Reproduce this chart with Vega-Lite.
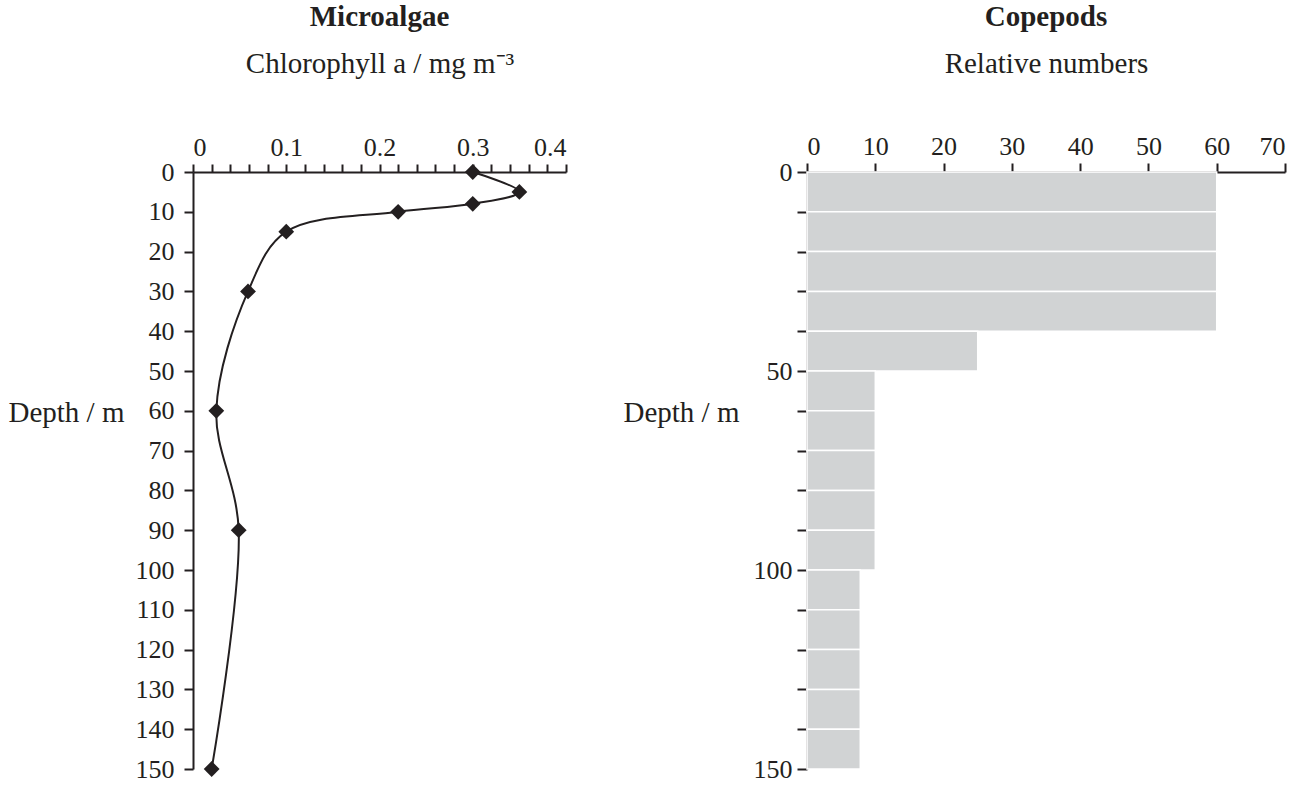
{
  "$schema": "https://vega.github.io/schema/vega-lite/v6.json",
  "padding": {"left": 8, "top": 3, "right": 5, "bottom": 5},
  "spacing": 56,
  "config": {
    "view": {"stroke": null},
    "font": "Liberation Serif",
    "axis": {
      "grid": false,
      "domainColor": "#231f20",
      "domainWidth": 2,
      "tickColor": "#231f20",
      "tickWidth": 2,
      "labelColor": "#231f20",
      "labelFont": "Liberation Serif",
      "labelFontSize": 26,
      "titleColor": "#231f20",
      "titleFont": "Liberation Serif",
      "titleFontSize": 29,
      "titleFontWeight": "normal",
      "labelOverlap": false,
      "zindex": 1
    },
    "title": {"font": "Liberation Serif", "fontSize": 29, "fontWeight": "bold", "color": "#231f20", "anchor": "middle", "offset": 17}
  },
  "hconcat": [
    {
      "width": 373,
      "height": 597,
      "title": "Microalgae",
      "data": {
        "values": [
          {"depth": 0, "chl": 0.3},
          {"depth": 5, "chl": 0.35},
          {"depth": 8, "chl": 0.3},
          {"depth": 10, "chl": 0.22},
          {"depth": 15, "chl": 0.1},
          {"depth": 30, "chl": 0.059},
          {"depth": 60, "chl": 0.025},
          {"depth": 90, "chl": 0.049},
          {"depth": 150, "chl": 0.02}
        ]
      },
      "encoding": {
        "x": {
          "field": "chl", "type": "quantitative",
          "scale": {"domain": [0, 0.4], "nice": false, "zero": true},
          "axis": {
            "orient": "top",
            "values": [0, 0.02, 0.04, 0.06, 0.08, 0.1, 0.12, 0.14, 0.16, 0.18, 0.2, 0.22, 0.24, 0.26, 0.28, 0.3, 0.32, 0.34, 0.36, 0.38, 0.4],
            "labelExpr": "abs(datum.value * 10 - round(datum.value * 10)) < 0.001 ? (datum.value == 0 ? '0' : format(datum.value, '.1f')) : ''",
            "tickSize": 8,
            "labelPadding": 4,
            "labelOverlap": false,
            "title": "Chlorophyll a / mg m⁻³",
            "titleY": -109,
            "titleBaseline": "middle"
          }
        },
        "y": {
          "field": "depth", "type": "quantitative",
          "scale": {"domain": [0, 150], "reverse": true, "nice": false},
          "axis": {
            "values": [0, 10, 20, 30, 40, 50, 60, 70, 80, 90, 100, 110, 120, 130, 140, 150],
            "tickSize": 9,
            "labelPadding": 10,
            "labelOverlap": false,
            "title": "Depth / m",
            "titleAngle": 0,
            "titleAlign": "right",
            "titleBaseline": "middle",
            "titleX": -69,
            "titleY": 240
          }
        }
      },
      "layer": [
        {
          "mark": {"type": "line", "interpolate": "catmull-rom", "color": "#231f20", "strokeWidth": 2},
          "encoding": {
            "order": {"field": "depth", "type": "quantitative"}
          }
        },
        {
          "mark": {"type": "point", "shape": "diamond", "filled": true, "size": 250, "color": "#231f20", "opacity": 1},
          "encoding": {}
        }
      ]
    },
    {
      "width": 478,
      "height": 597,
      "title": "Copepods",
      "data": {
        "values": [
          {"d0": 0, "d1": 10, "n": 60},
          {"d0": 10, "d1": 20, "n": 60},
          {"d0": 20, "d1": 30, "n": 60},
          {"d0": 30, "d1": 40, "n": 60},
          {"d0": 40, "d1": 50, "n": 25},
          {"d0": 50, "d1": 60, "n": 10},
          {"d0": 60, "d1": 70, "n": 10},
          {"d0": 70, "d1": 80, "n": 10},
          {"d0": 80, "d1": 90, "n": 10},
          {"d0": 90, "d1": 100, "n": 10},
          {"d0": 100, "d1": 110, "n": 7.8},
          {"d0": 110, "d1": 120, "n": 7.8},
          {"d0": 120, "d1": 130, "n": 7.8},
          {"d0": 130, "d1": 140, "n": 7.8},
          {"d0": 140, "d1": 150, "n": 7.8}
        ]
      },
      "mark": {"type": "rect", "color": "#d1d3d4", "stroke": "white", "strokeWidth": 1.5},
      "encoding": {
        "x": {
          "field": "n", "type": "quantitative",
          "scale": {"domain": [0, 70], "nice": false},
          "axis": {
            "orient": "top",
            "values": [0, 10, 20, 30, 40, 50, 60, 70],
            "tickSize": 9,
            "labelPadding": 4,
            "labelOverlap": false,
            "title": "Relative numbers",
            "titleY": -109,
            "titleBaseline": "middle"
          }
        },
        "x2": {"datum": 0},
        "y": {
          "field": "d0", "type": "quantitative",
          "scale": {"domain": [0, 150], "reverse": true, "nice": false},
          "axis": {
            "values": [0, 10, 20, 30, 40, 50, 60, 70, 80, 90, 100, 110, 120, 130, 140, 150],
            "labelExpr": "datum.value % 50 == 0 ? datum.label : ''",
            "tickSize": 10,
            "labelPadding": 5,
            "labelOverlap": false,
            "title": "Depth / m",
            "titleAngle": 0,
            "titleAlign": "right",
            "titleBaseline": "middle",
            "titleX": -68,
            "titleY": 240
          }
        },
        "y2": {"field": "d1"}
      }
    }
  ]
}
